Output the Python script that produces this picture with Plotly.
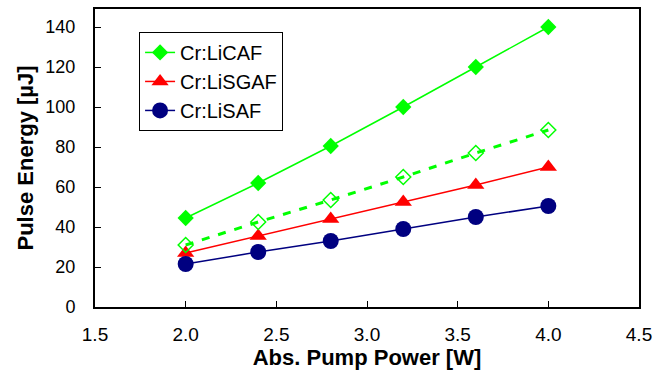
import plotly.graph_objects as go

pump_power = [2.0, 2.4, 2.8, 3.2, 3.6, 4.0]
licaf = [44.5, 62, 80.5, 100, 120, 140]
licaf_dashed = [31, 42.5, 53.5, 65, 77, 88.5]
lisgaf = [27, 35.5, 44, 52.5, 61, 70]
lisaf = [21.5, 27.5, 33, 39, 45, 50.5]

FONT = "Liberation Sans, Arial, Helvetica"

fig = go.Figure()
fig.add_trace(go.Scatter(x=pump_power, y=licaf, mode="lines+markers", name="Cr:LiCAF",
                         line=dict(color="#00FF00", width=1.5),
                         marker=dict(symbol="diamond", size=12.5, color="#00FF00")))
fig.add_trace(go.Scatter(x=pump_power, y=lisgaf, mode="lines+markers", name="Cr:LiSGAF",
                         line=dict(color="#FF0000", width=1.5),
                         marker=dict(symbol="triangle-up", size=15, color="#FF0000")))
fig.add_trace(go.Scatter(x=pump_power, y=lisaf, mode="lines+markers", name="Cr:LiSAF",
                         line=dict(color="#000080", width=1.5),
                         marker=dict(symbol="circle", size=16, color="#000080")))
fig.add_trace(go.Scatter(x=pump_power, y=licaf_dashed, mode="lines+markers", showlegend=False,
                         line=dict(color="#00FF00", width=3, dash="8px,9px"),
                         marker=dict(symbol="diamond-open", size=11.5, color="#00FF00",
                                     line=dict(width=1.5, color="#00FF00"))))

axis_common = dict(showline=True, linecolor="black", linewidth=2, mirror=True,
                   ticks="inside", ticklen=6, tickcolor="black", tickwidth=1,
                   showgrid=False, zeroline=False)

fig.update_layout(
    width=661, height=374,
    margin=dict(l=95, r=22, t=7, b=67),
    plot_bgcolor="white", paper_bgcolor="white",
    xaxis=dict(range=[1.5, 4.5], dtick=0.5, tick0=1.5, tickformat=".1f",
               tickfont=dict(family=FONT, size=19, color="black"),
               ticklabelstandoff=9,
               title=dict(text="<b>Abs. Pump Power [W]</b>", standoff=6,
                          font=dict(family=FONT, size=22, color="black")),
               **axis_common),
    yaxis=dict(range=[0, 149], dtick=20, tick0=0,
               tickfont=dict(family=FONT, size=18, color="black"),
               ticklabelstandoff=14,
               title=dict(text="<b>Pulse Energy [µJ]</b>", standoff=6,
                          font=dict(family=FONT, size=22, color="black")),
               **axis_common),
    legend=dict(x=0.081, y=0.923, xanchor="left", yanchor="top",
                bordercolor="black", borderwidth=1, bgcolor="white",
                font=dict(family=FONT, size=20, color="black"),
                tracegroupgap=0, itemwidth=30),
    showlegend=True,
)

fig.write_html("out.html", config={"displayModeBar": False},
               post_script="document.body.style.margin='0';document.body.style.overflow='hidden';")
